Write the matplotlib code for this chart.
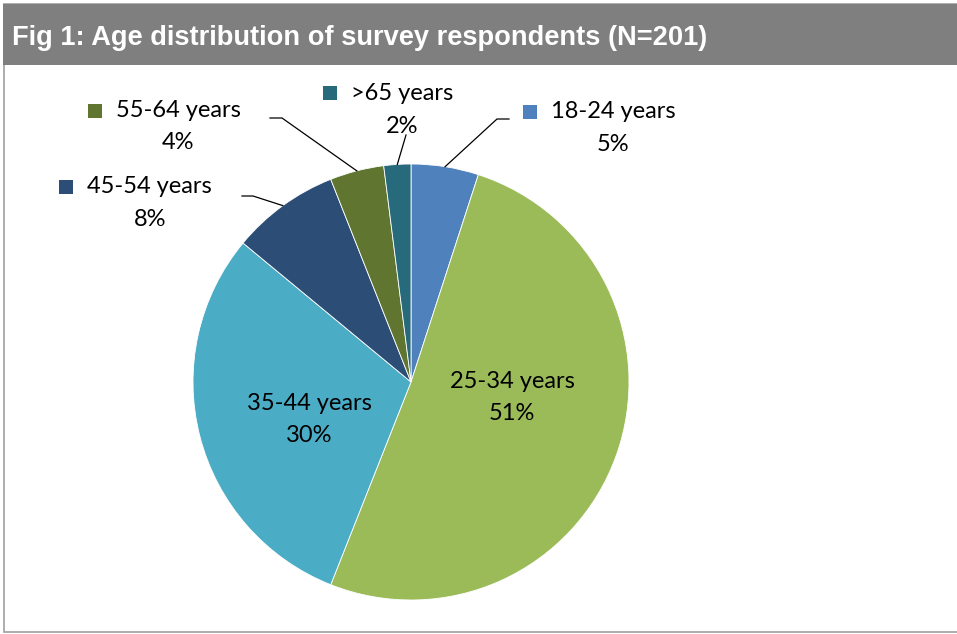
import matplotlib
matplotlib.use("Agg")
import matplotlib.pyplot as plt
from matplotlib.patches import Rectangle
import numpy as np

categories = ["18-24 years", "25-34 years", "35-44 years", "45-54 years", "55-64 years", ">65 years"]
values = [5, 51, 30, 8, 4, 2]
pct_labels = ["5%", "51%", "30%", "8%", "4%", "2%"]
colors = ["#4F81BD", "#9BBB59", "#4BACC6", "#2C4D75", "#5F7530", "#276A7C"]
title = "Fig 1: Age distribution of survey respondents (N=201)"

W, H = 957, 634
fig = plt.figure(figsize=(W / 100, H / 100), dpi=100)
fig.patch.set_facecolor("white")

def fx(px):
    return px / W

def fy(py):
    return 1 - py / H

# frame and title bar
fig.add_artist(Rectangle((fx(4), fy(632)), fx(960) - fx(4), fy(4) - fy(632),
                         transform=fig.transFigure, facecolor="white",
                         edgecolor="#A0A0A0", linewidth=1.2, zorder=0))
fig.add_artist(Rectangle((fx(3), fy(65)), 1 - fx(3), fy(4) - fy(65),
                         transform=fig.transFigure, facecolor="#7F7F7F",
                         edgecolor="none", zorder=1))
fig.text(fx(12), fy(38), title, color="white", fontsize=19.6, fontweight="bold",
         family="Liberation Sans", ha="left", va="center", zorder=2)

# pie axes
cx, cy, r = 411, 382, 218
ax = fig.add_axes([fx(cx - r), fy(cy + r), 2 * r / W, 2 * r / H])
wedges, _ = ax.pie(values, colors=colors, startangle=90, counterclock=False,
                   radius=1.0, wedgeprops=dict(edgecolor="white", linewidth=0.6))
ax.set_xlim(-1, 1)
ax.set_ylim(-1, 1)
ax.set_aspect("equal")
ax.axis("off")

font = "Lato"
fs = 17

def d(px, py):
    return ((px - cx) / r, (cy - py) / r)

# inside labels (index 1 and 2)
inside = {1: (512, 381, 413), 2: (309, 404, 436)}
for i, (px, py1, py2) in inside.items():
    ax.text(*d(px, py1), categories[i], ha="center", va="center", fontsize=fs, family=font, color="black")
    ax.text(*d(px, py2), pct_labels[i], ha="center", va="center", fontsize=fs, family=font, color="black")

# outside labels: (marker left x, name y, pct center x, pct y, leader path points)
outside = {
    0: dict(mx=523, ny=112, px=613, py=145, path=[(509, 119), (497, 119)]),
    3: dict(mx=59, ny=187, px=150, py=219, path=[(242, 196), (253, 196)]),
    4: dict(mx=88, ny=111, px=178, py=143, path=[(270, 118), (282, 118)]),
    5: dict(mx=323, ny=93, px=402, py=127, path=[(406, 135)]),
}
theta = np.cumsum([0] + values)
for i, o in outside.items():
    mid = np.deg2rad(90 - (theta[i] + theta[i + 1]) / 2 * 3.6)
    edge = (np.cos(mid), np.sin(mid))
    pts = [d(*p) for p in o["path"]] + [edge]
    xs, ys = zip(*pts)
    ax.plot(xs, ys, color="black", linewidth=0.9, clip_on=False)
    # marker square
    s = 14
    mx0, my0 = d(o["mx"], o["ny"] + s / 2)
    ax.add_patch(Rectangle((mx0, my0), s / r, s / r, facecolor=colors[i],
                           edgecolor="none", clip_on=False))
    ax.text(*d(o["mx"] + 28, o["ny"]), categories[i], ha="left", va="center",
            fontsize=fs, family=font, color="black", clip_on=False)
    ax.text(*d(o["px"], o["py"]), pct_labels[i], ha="center", va="center",
            fontsize=fs, family=font, color="black", clip_on=False)

fig.savefig("out.png", dpi=100)
